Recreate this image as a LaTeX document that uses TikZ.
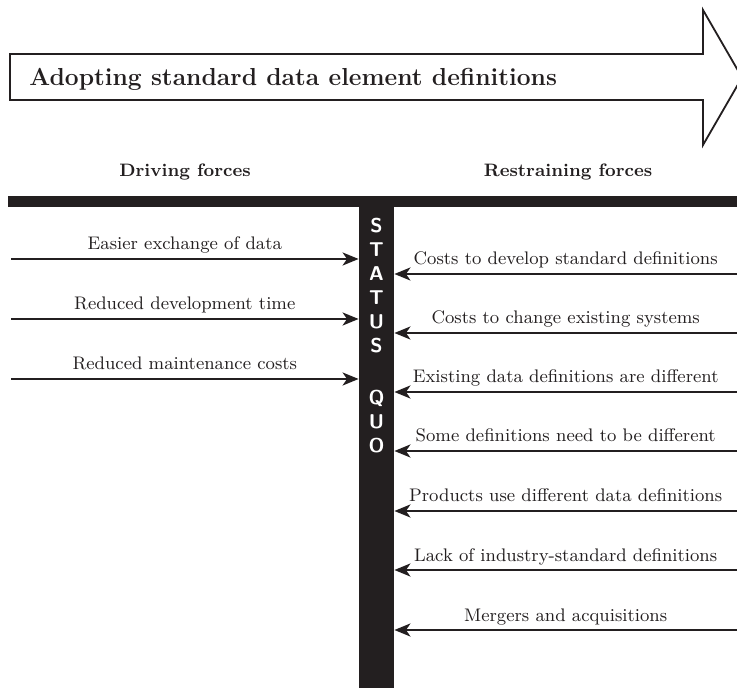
\documentclass[tikz,border=0pt]{standalone}
\usepackage{tikz}
\usetikzlibrary{arrows.meta}
\usetikzlibrary{positioning}
\definecolor{quoblack}{RGB}{35,31,32}

\begin{document}
\begin{tikzpicture}[x=0.5pt,y=-0.5pt,
    force/.style={draw=quoblack, line width=1.1pt, arrows=-{Stealth[length=8pt,width=6.5pt,inset=2.2pt]}},
    forcelabel/.style={midway, anchor=base, yshift=4.5pt, inner sep=0pt, text=quoblack, font=\fontsize{9.1}{11}\selectfont},
    heading/.style={anchor=base, inner sep=0pt, text=quoblack, font=\fontsize{9}{11}\selectfont\bfseries}]

            % \draw [help lines] (0,0) grid (737,688);
            \useasboundingbox (0,0) rectangle (737,688);

            % the change arrow on top
            \draw[line width=0.9pt, draw=quoblack, line join=miter]
                (10,54) -- (703,54) -- (703,10) -- (742,77.5) -- (703,145) -- (703,100) -- (10,100) -- cycle;
            \node [anchor=base west, inner sep=0pt, text=quoblack, font=\fontsize{12.3}{14}\selectfont\bfseries] (goal) at (29,86)
            {Adopting standard data element definitions};

            \node [heading] (driving) at (185,177) {Driving forces};
            \node [heading] (restraining) at (568,177) {Restraining forces};

            % the T bar
            \fill[quoblack] (8,196) rectangle (737,207);
            \node [fill=quoblack, inner sep=0pt, minimum width=17.5pt, minimum height=246pt] (bar) at (376.5,442) {};
            \node [anchor=north, inner sep=0pt, text=white, align=center, font=\fontsize{10}{12}\selectfont\sffamily\bfseries] (status) at (376.5,218)
            {S\\T\\A\\T\\U\\S\\[14pt]Q\\U\\O};

            % driving forces
            \coordinate (d1) at (11,259);
            \coordinate (d2) at (11,319);
            \coordinate (d3) at (11,379);

            \draw[force] (d1) -- (d1 -| bar.west) node[forcelabel] {Easier exchange of data};
            \draw[force] (d2) -- (d2 -| bar.west) node[forcelabel] {Reduced development time};
            \draw[force] (d3) -- (d3 -| bar.west) node[forcelabel] {Reduced maintenance costs};

            % restraining forces
            \coordinate (r1) at (737,274);
            \coordinate (r2) at (737,333);
            \coordinate (r3) at (737,392);
            \coordinate (r4) at (737,451);
            \coordinate (r5) at (737,511);
            \coordinate (r6) at (737,570);
            \coordinate (r7) at (737,630);

            \draw[force] (r1) -- (r1 -| bar.east) node[forcelabel] {Costs to develop standard definitions};
            \draw[force] (r2) -- (r2 -| bar.east) node[forcelabel] {Costs to change existing systems};
            \draw[force] (r3) -- (r3 -| bar.east) node[forcelabel] {Existing data definitions are different};
            \draw[force] (r4) -- (r4 -| bar.east) node[forcelabel] {Some definitions need to be different};
            \draw[force] (r5) -- (r5 -| bar.east) node[forcelabel] {Products use different data definitions};
            \draw[force] (r6) -- (r6 -| bar.east) node[forcelabel] {Lack of industry-standard definitions};
            \draw[force] (r7) -- (r7 -| bar.east) node[forcelabel] {Mergers and acquisitions};

\end{tikzpicture}
\end{document}
